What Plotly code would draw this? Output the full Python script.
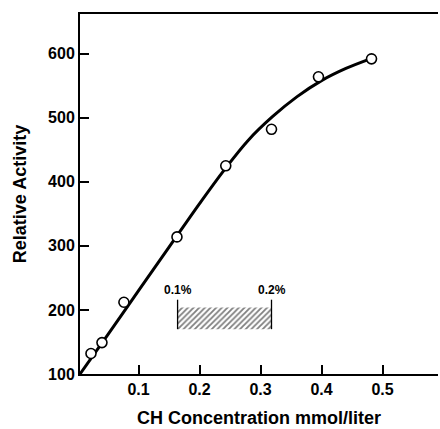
import plotly.graph_objects as go

# measured points
conc = [0.022, 0.040, 0.076, 0.163, 0.243, 0.318, 0.395, 0.482]
activity = [132, 149, 212, 314, 425, 482, 564, 592]

# fitted curve
curve_x = [0.004, 0.05, 0.10, 0.15, 0.20, 0.24, 0.28, 0.32, 0.36, 0.40, 0.44, 0.48]
curve_y = [100, 162, 230, 298, 366, 418, 465, 502, 533, 558, 577, 592]

# 0.1% - 0.2% range bar
range_x = [0.164, 0.318]
range_labels = ["0.1%", "0.2%"]
hatch_y = [170, 204]
tick_top = 216

x_ticks = [0.1, 0.2, 0.3, 0.4, 0.5]
y_ticks = [100, 200, 300, 400, 500, 600]

FONT = "Liberation Sans, Arial, sans-serif"

fig = go.Figure()

# hatched band
fig.add_trace(go.Scatter(
    x=[range_x[0], range_x[1], range_x[1], range_x[0], range_x[0]],
    y=[hatch_y[0], hatch_y[0], hatch_y[1], hatch_y[1], hatch_y[0]],
    mode="lines", line=dict(width=0), fill="toself", fillcolor="white",
    fillpattern=dict(shape="/", fgcolor="black", bgcolor="white", size=4, solidity=0.45),
    hoverinfo="skip", showlegend=False))

# vertical markers of the band
for xv in range_x:
    fig.add_trace(go.Scatter(x=[xv, xv], y=[hatch_y[0], tick_top], mode="lines",
                             line=dict(color="black", width=1.3),
                             hoverinfo="skip", showlegend=False))

for xv, lab in zip(range_x, range_labels):
    fig.add_annotation(x=xv, y=tick_top, yshift=10, text="<b>" + lab + "</b>",
                       showarrow=False, font=dict(family=FONT, size=12, color="black"))

fig.add_trace(go.Scatter(x=curve_x, y=curve_y, mode="lines",
                         line=dict(color="black", width=3, shape="spline"),
                         showlegend=False))

fig.add_trace(go.Scatter(x=conc, y=activity, mode="markers",
                         marker=dict(size=10, color="white",
                                     line=dict(color="black", width=1.6)),
                         showlegend=False))

fig.update_layout(
    width=440, height=429,
    margin=dict(l=80, r=2, t=14, b=55),
    paper_bgcolor="white", plot_bgcolor="white",
    font=dict(family=FONT, color="black"),
)
fig.update_xaxes(range=[0.004, 0.591], tickvals=x_ticks,
                 ticktext=["<b>%g</b>" % v for v in x_ticks],
                 ticks="inside", ticklen=9, tickwidth=1.5, tickcolor="black",
                 showline=True, linecolor="black", linewidth=2, mirror=True,
                 showgrid=False, zeroline=False, automargin=False,
                 tickfont=dict(size=16, family=FONT),
                 title=dict(text="<b>CH Concentration mmol/liter</b>",
                            font=dict(size=18, family=FONT), standoff=14))
fig.update_yaxes(range=[100, 662], tickvals=y_ticks,
                 ticktext=["<b>%d</b>" % v for v in y_ticks],
                 ticks="inside", ticklen=9, tickwidth=1.5, tickcolor="black",
                 showline=True, linecolor="black", linewidth=2,
                 showgrid=False, zeroline=False, automargin=False,
                 tickfont=dict(size=16, family=FONT),
                 title=dict(text="<b>Relative Activity</b>",
                            font=dict(size=18, family=FONT), standoff=17))

# drop the browser's default 8px page margin so the figure sits at the corner
fig.write_html("out.html", config={"displayModeBar": False},
               post_script="document.body.style.margin='0';")
